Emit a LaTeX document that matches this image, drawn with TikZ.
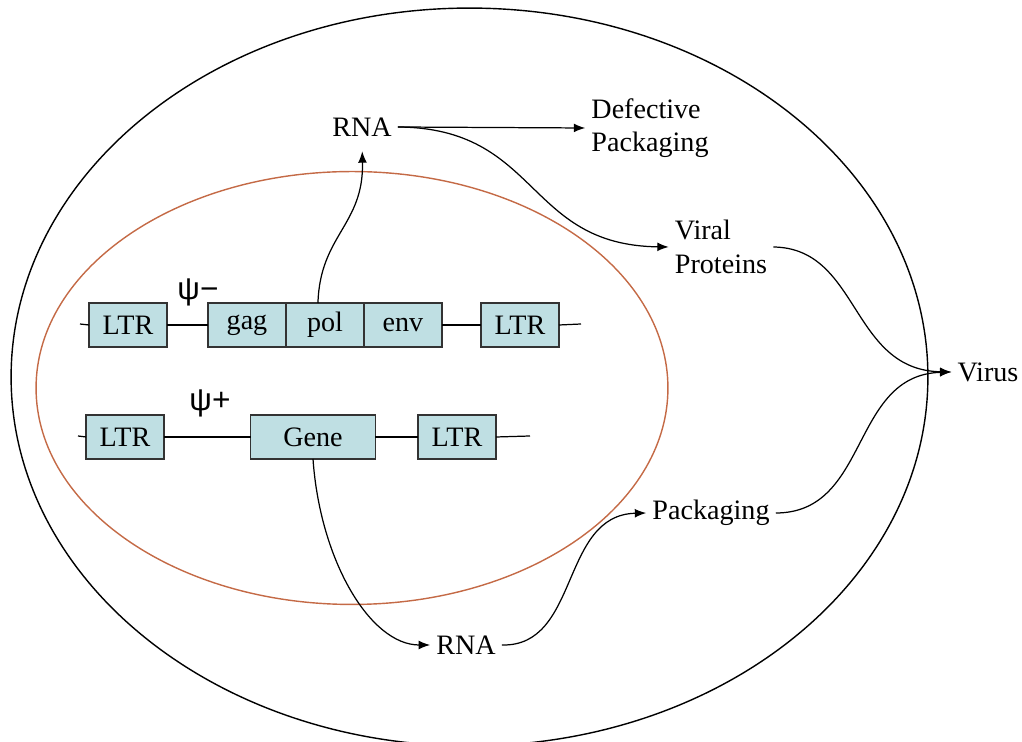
\documentclass[tikz,border=0pt]{standalone}
\usepackage{fontspec}
\setmainfont{Liberation Serif}
\newfontfamily\psifont{Liberation Sans}
\usetikzlibrary{arrows.meta,positioning}
\definecolor{boxcyan}{HTML}{BFDFE3}
\definecolor{nucleusorange}{HTML}{C46A46}

\begin{document}
\begin{tikzpicture}[x=0.02cm,y=-0.02cm,>={Latex[length=6.5pt,width=5pt]},
    every node/.style={font=\fontsize{16}{19}\selectfont},
    genebox/.style={draw=black!80,line width=0.9pt,fill=boxcyan,minimum width=1.56cm,minimum height=0.88cm,inner sep=0pt,outer sep=0pt},
    psilabel/.style={font=\psifont\fontsize{18}{20}\selectfont},
    flow/.style={->,line width=0.7pt}]
  \useasboundingbox (0,0) rectangle (1022,742);
  % cell and nucleus
  \draw[line width=0.8pt] (469.5,377) ellipse [x radius=9.17cm, y radius=7.38cm];
  \draw[nucleusorange,line width=0.8pt] (352,388) ellipse [x radius=6.32cm, y radius=4.33cm];

  % psi- construct
  \coordinate (a0) at (80,324);
  \coordinate (a1) at (581,324);
  \node[genebox] (ltrA) at (128,325) {LTR};
  \node[genebox] (gag) at (247,325) {gag};
  \node[genebox,right=0pt of gag] (pol) {pol};
  \node[genebox,right=0pt of pol] (env) {env};
  \node[genebox] (ltrB) at (520,325) {LTR};
  \node[psilabel] (psiA) at (198,292) {ψ−};
  \draw[line width=0.7pt] (a0) -- (ltrA.west);
  \draw[line width=0.7pt] (ltrA.east) -- (gag.west);
  \draw[line width=0.7pt] (env.east) -- (ltrB.west);
  \draw[line width=0.7pt] (ltrB.east) -- (a1);

  % psi+ construct
  \coordinate (b0) at (78,436);
  \coordinate (b1) at (530,436);
  \node[genebox] (ltrC) at (125,437) {LTR};
  \node[genebox,minimum width=2.5cm] (gene) at (313,437) {Gene};
  \node[genebox] (ltrD) at (457,437) {LTR};
  \node[psilabel] (psiB) at (210,403) {ψ+};
  \draw[line width=0.7pt] (b0) -- (ltrC.west);
  \draw[line width=0.7pt] (ltrC.east) -- (gene.west);
  \draw[line width=0.7pt] (gene.east) -- (ltrD.west);
  \draw[line width=0.7pt] (ltrD.east) -- (b1);

  % products
  \node (rnaA) at (362,127) {RNA};
  \node[align=left] (defect) at (650,128) {Defective\\Packaging};
  \node[align=left] (viral) at (721,247) {Viral\\Proteins};
  \node (virus) at (988,372) {Virus};
  \node (pack) at (711,513) {Packaging};
  \node (rnaB) at (466,645) {RNA};

  \draw[flow,shorten >=5pt] ([xshift=-4pt]pol.north) .. controls (320,235) and (364,225) .. (rnaA.south);
  \draw[flow] (rnaA.east) -- (defect.west);
  \draw[flow] (rnaA.east) .. controls (540,128) and (525,245) .. (viral.west);
  \draw[flow] (viral.east) .. controls (860,248) and (850,370) .. (virus.west);
  \draw[flow] (pack.east) .. controls (870,513) and (850,375) .. (virus.west);
  \draw[flow] (gene.south) .. controls (320,560) and (370,645) .. (rnaB.west);
  \draw[flow] (rnaB.east) .. controls (580,647) and (560,515) .. (pack.west);
\end{tikzpicture}
\end{document}
